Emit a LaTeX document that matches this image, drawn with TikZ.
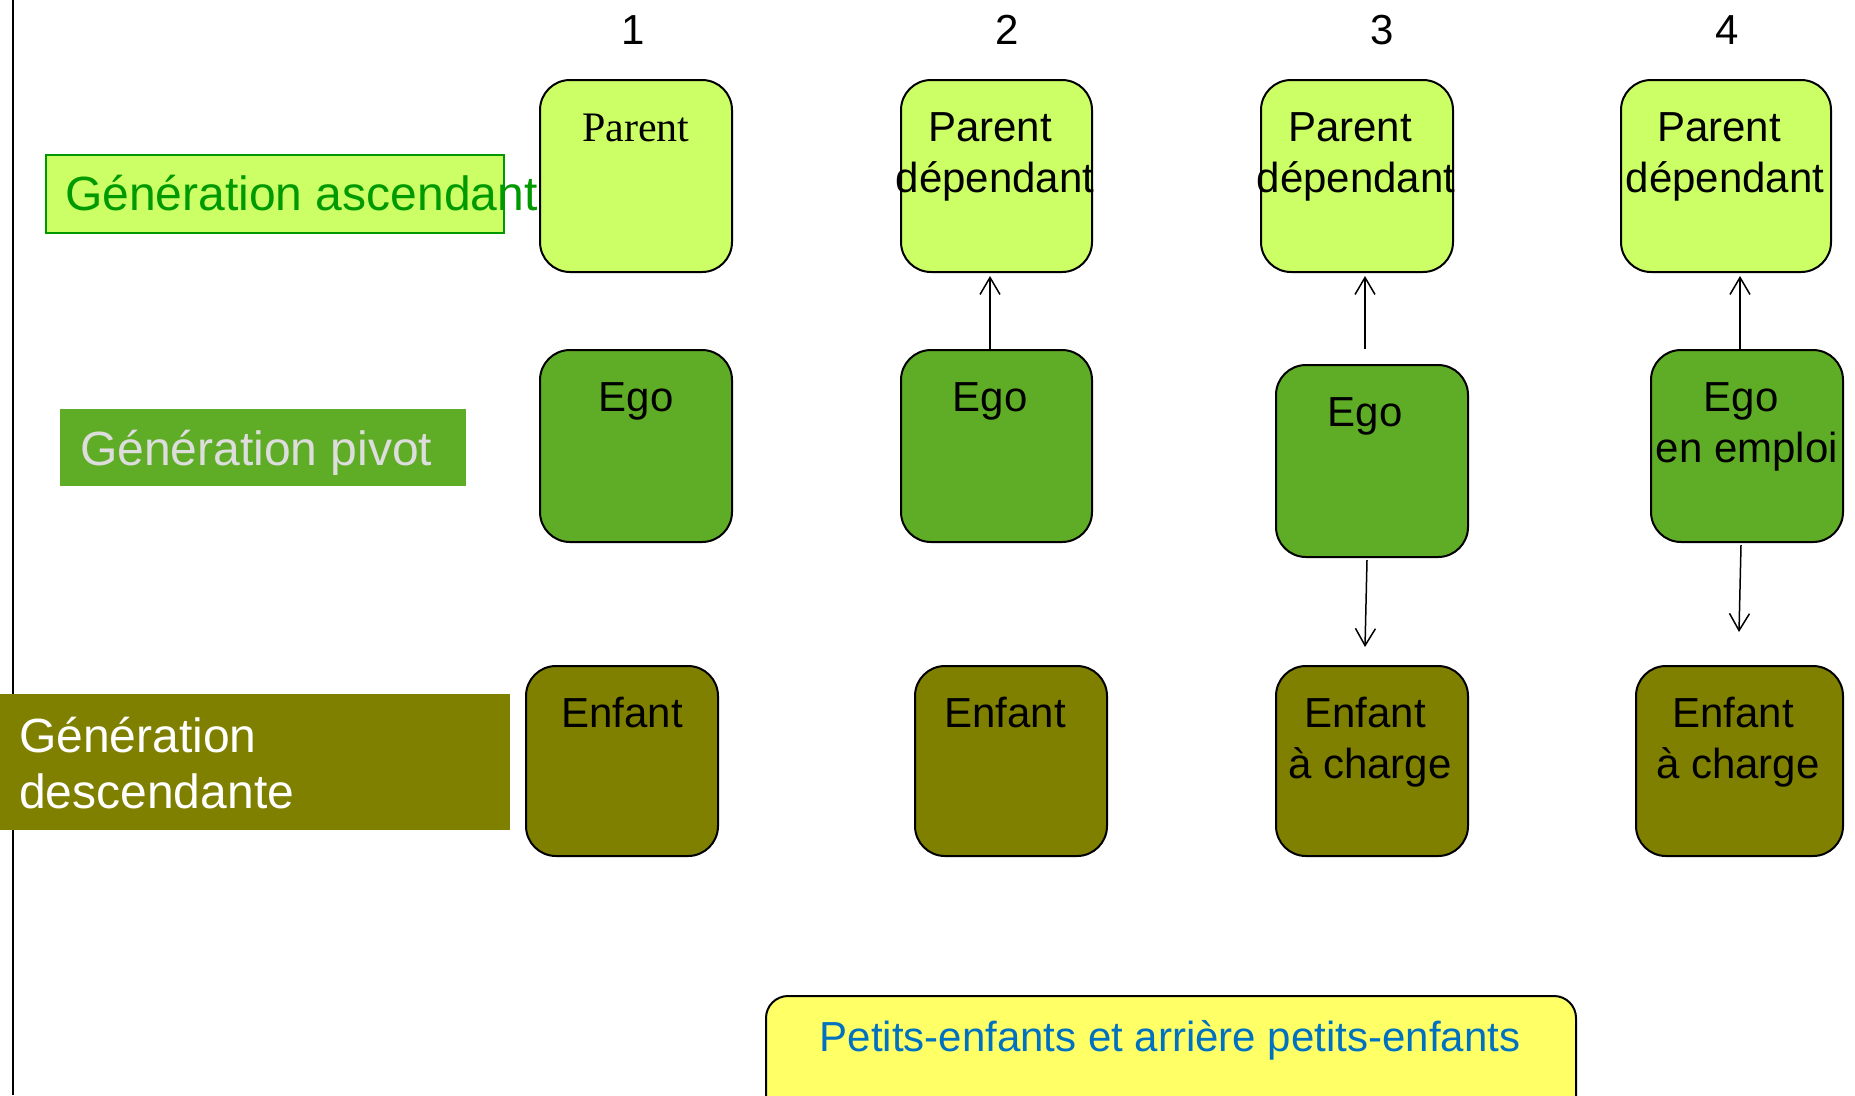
\documentclass[tikz,border=0pt]{standalone}
\usepackage{fontspec}
\setmainfont{Liberation Sans}
\newfontfamily\timesf{Liberation Serif}
\usetikzlibrary{calc,arrows.meta}
\definecolor{lgreen}{HTML}{CCFF66}
\definecolor{mgreen}{HTML}{5FAD26}
\definecolor{olive}{HTML}{808000}
\definecolor{yel}{HTML}{FFFF66}
\definecolor{bluet}{HTML}{0070C0}
\definecolor{greent}{HTML}{009900}
\definecolor{greyt}{HTML}{DDDDDD}
\begin{document}
\begin{tikzpicture}[x=1bp,y=-1bp,
  gbox/.style={draw=black, line width=2bp, rounded corners=30bp, inner sep=0pt, anchor=north west},
  lbox/.style={inner sep=0pt, anchor=north west},
  txt/.style={inner sep=0pt, anchor=base, font=\fontsize{42bp}{51bp}\selectfont},
  ltxt/.style={inner sep=0pt, anchor=base west, font=\fontsize{48bp}{58bp}\selectfont},
  arr/.style={line width=1.5bp, -{Straight Barb[length=17bp,width=20bp,line width=1.5bp]}}
]
\useasboundingbox (0,0) rectangle (1855,1095);
\fill[white] (0,0) rectangle (1855,1095);
% left vertical line
\coordinate (vl1) at (13,0);
\coordinate (vl2) at (13,1095);
\draw[line width=1.5bp] (vl1) -- (vl2);

% column numbers
\node[txt] (n1) at (633,44) {1};
\node[txt] (n2) at (1007,44) {2};
\node[txt] (n3) at (1382,44) {3};
\node[txt] (n4) at (1727,44) {4};

% generation labels
\node[lbox, fill=lgreen, draw=greent, line width=2bp, minimum width=458bp, minimum height=78bp] (gasc) at (45,154) {};
\node[ltxt, text=greent] (gasct) at (65,210) {Génération ascendant};
\node[lbox, fill=mgreen, minimum width=406bp, minimum height=77bp] (gpiv) at (60,409) {};
\node[ltxt, text=greyt] (gpivt) at (80,465) {Génération pivot};
\node[lbox, fill=olive, minimum width=510bp, minimum height=136bp] (gdes) at (0,694) {};
\node[ltxt, text=white] (gdest1) at (19,752) {Génération};
\node[ltxt, text=white] (gdest2) at (19,808) {descendante};

% row 1
\node[gbox, fill=lgreen, minimum width=192bp, minimum height=192bp] (p1) at (539,79) {};
\node[gbox, fill=lgreen, minimum width=191bp, minimum height=192bp] (p2) at (900,79) {};
\node[gbox, fill=lgreen, minimum width=192bp, minimum height=192bp] (p3) at (1260,79) {};
\node[gbox, fill=lgreen, minimum width=210bp, minimum height=192bp] (p4) at (1620,79) {};
\node[txt, font=\timesf\fontsize{42bp}{51bp}\selectfont] (p1t) at (p1.center |- 0,141) {Parent};
\node[txt] (p2a) at (990,141) {Parent};
\node[txt] (p2b) at (995,192) {dépendant};
\node[txt] (p3a) at (1350,141) {Parent};
\node[txt] (p3b) at (1356,192) {dépendant};
\node[txt] (p4a) at (1719,141) {Parent};
\node[txt] (p4b) at (1725,192) {dépendant};

% row 2
\node[gbox, fill=mgreen, minimum width=192bp, minimum height=192bp] (e1) at (539,349) {};
\node[gbox, fill=mgreen, minimum width=191bp, minimum height=192bp] (e2) at (900,349) {};
\node[gbox, fill=mgreen, minimum width=192bp, minimum height=192bp] (e3) at (1275,364) {};
\node[gbox, fill=mgreen, minimum width=192bp, minimum height=192bp] (e4) at (1650,349) {};
\node[txt] (e1t) at (e1.center |- 0,411) {Ego};
\node[txt] (e2t) at (990,411) {Ego};
\node[txt] (e3t) at (1365,426) {Ego};
\node[txt] (e4a) at (1741,411) {Ego};
\node[txt] (e4b) at (e4.center |- 0,462) {en emploi};

% row 3
\node[gbox, fill=olive, minimum width=192bp, minimum height=190bp] (c1) at (525,665) {};
\node[gbox, fill=olive, minimum width=192bp, minimum height=190bp] (c2) at (914,665) {};
\node[gbox, fill=olive, minimum width=192bp, minimum height=190bp] (c3) at (1275,665) {};
\node[gbox, fill=olive, minimum width=207bp, minimum height=190bp] (c4) at (1635,665) {};
\node[txt] (c1t) at (c1.center |- 0,727) {Enfant};
\node[txt] (c2t) at (1005,727) {Enfant};
\node[txt] (c3a) at (1365,727) {Enfant};
\node[txt] (c3b) at (1370,778) {à charge};
\node[txt] (c4a) at (1733,727) {Enfant};
\node[txt] (c4b) at (1738,778) {à charge};

% bottom box
\node[gbox, fill=yel, rounded corners=22bp, minimum width=810bp, minimum height=140bp] (pe) at (765,995) {};
\node[txt, text=bluet] (pet) at (1170,1051) {Petits-enfants et arrière petits-enfants};

% arrows
\coordinate (a3s) at (1365,349);
\coordinate (a4s) at (1740,349);
\coordinate (d3s) at (1367,560);
\coordinate (d3e) at (1365,647);
\coordinate (d4s) at (1741,545);
\coordinate (d4e) at (1739,632);
\draw[arr, shorten >=3bp] (e2.north -| 990,0) -- (p2.south -| 990,0);
\draw[arr, shorten >=3bp] (a3s) -- (p3.south -| a3s);
\draw[arr, shorten >=3bp] (a4s) -- (p4.south -| a4s);
\draw[arr] (d3s) -- (d3e);
\draw[arr] (d4s) -- (d4e);
\end{tikzpicture}
\end{document}
